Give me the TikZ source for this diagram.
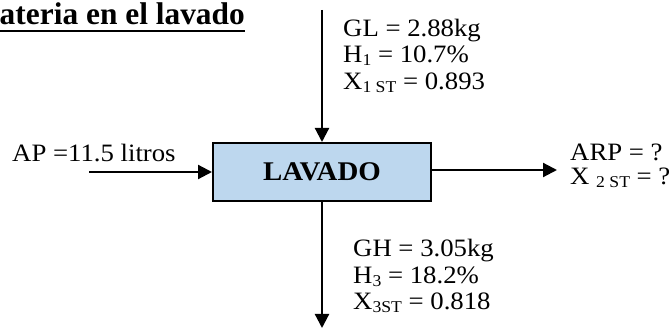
\documentclass[tikz,border=0pt]{standalone}
\usepackage{fontspec}
\setmainfont{Liberation Serif}[FakeStretch=1.07]
\newfontfamily\titlefont{Liberation Serif}
\usetikzlibrary{arrows.meta}
\definecolor{boxblue}{RGB}{189,215,238}
\newcommand\lowsub[1]{\raisebox{-3pt}{\fontsize{16.5}{16.5}\selectfont #1}}
\tikzset{
  flow/.style={line width=2.2pt, -{Triangle[length=14pt,width=14pt]}},
  lbl/.style={anchor=base west, inner sep=0pt, font=\fontsize{25}{28}\selectfont},
  procbox/.style={draw=black, line width=2pt, fill=boxblue, minimum width=218pt,
    minimum height=58pt, inner sep=0pt, font=\fontsize{27}{30}\selectfont\bfseries}
}
\begin{document}
\begin{tikzpicture}[x=1pt,y=-1pt]
\useasboundingbox (0,0) rectangle (669,328);
% title
\node[anchor=base east, inner sep=0pt, font=\titlefont\fontsize{31.4}{34}\selectfont\bfseries] (title) at (245,25) {ateria en el lavado};
\draw[line width=2.6pt] ([yshift=-6pt]title.base west) -- ([yshift=-6pt]title.base east);
% process box
\node[procbox] (lav) at (322,172) {LAVADO};
% connectors
\coordinate (topin) at (322,10);
\coordinate (leftin) at (89,172);
\coordinate (rightout) at (557,170);
\coordinate (botout) at (322,328);
\draw[flow] (topin) -- (lav.north);
\draw[flow] (leftin) -- (lav.west);
\draw[flow] ([yshift=2pt]lav.east) -- (rightout);
\draw[flow] (lav.south) -- (botout);
% labels
\node[lbl] (gl) at (343,37) {GL = 2.88kg};
\node[lbl] (h1) at (343,63) {H\lowsub{1} = 10.7\%};
\node[lbl] (x1) at (343,90) {X\lowsub{1 ST} = 0.893};
\node[lbl] (ap) at (12,162) {AP =11.5 litros};
\node[lbl] (arp) at (570,161) {ARP = ?};
\node[lbl] (x2) at (570,185) {X \lowsub{2 ST} = ?};
\node[lbl] (gh) at (353,257) {GH = 3.05kg};
\node[lbl] (h3) at (353,284) {H\lowsub{3} = 18.2\%};
\node[lbl] (x3) at (353,310) {X\lowsub{3ST} = 0.818};
\end{tikzpicture}
\end{document}
